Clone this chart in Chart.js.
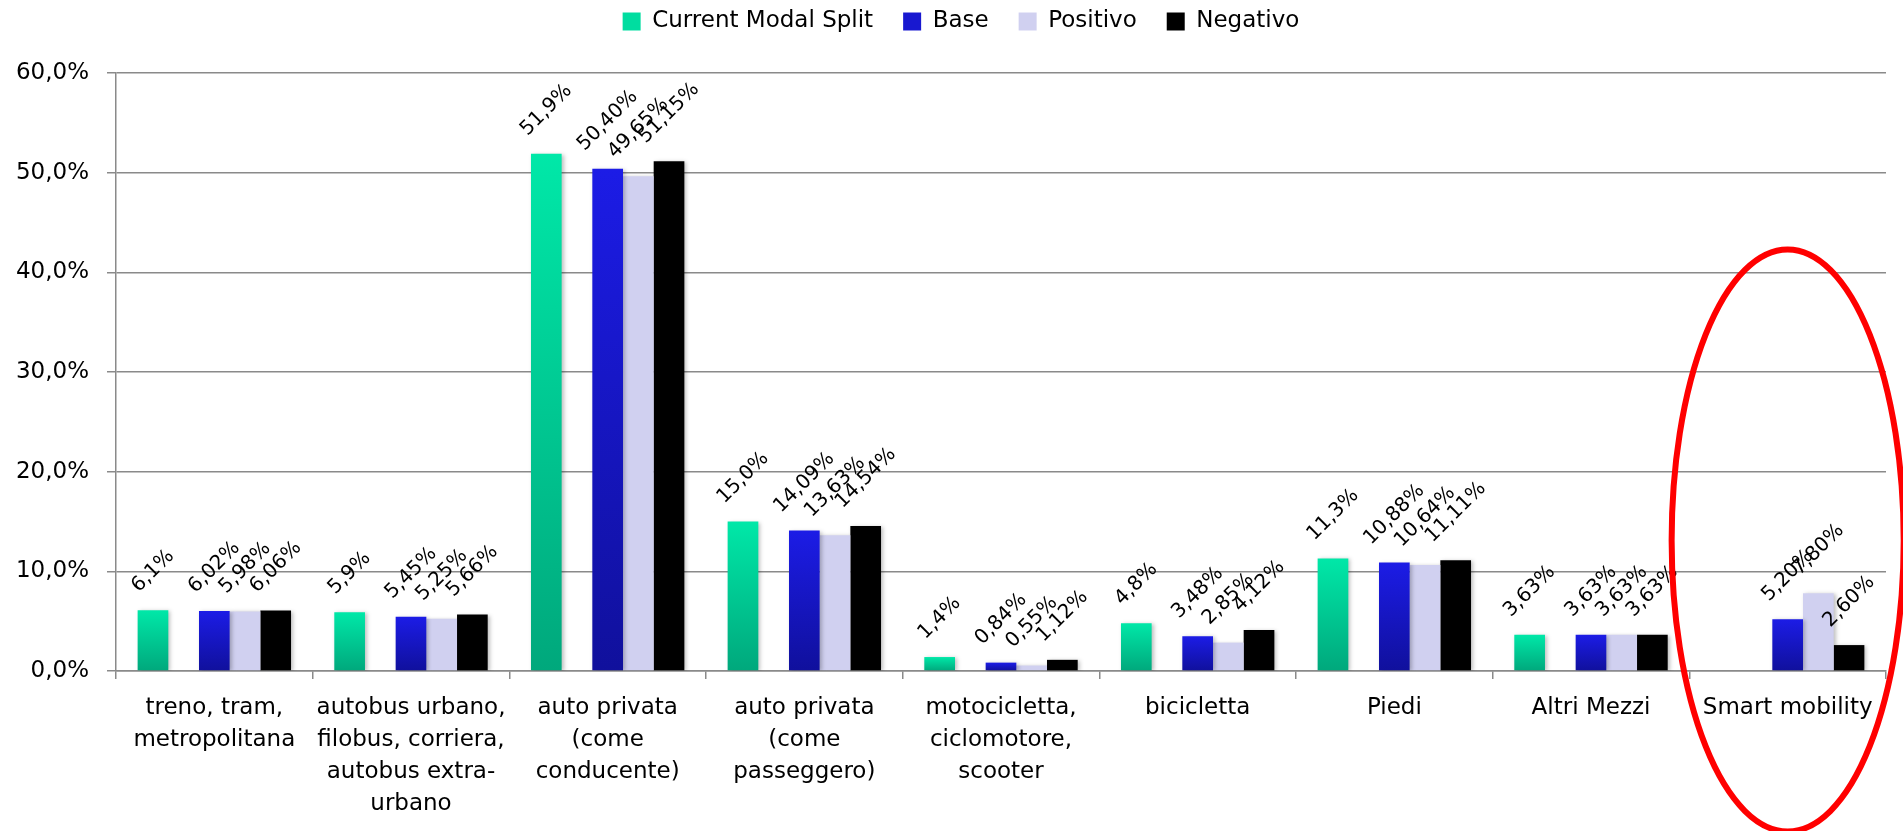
<!DOCTYPE html>
<html>
<head>
<meta charset="utf-8">
<script src="https://cdn.jsdelivr.net/npm/chart.js@4.4.0/dist/chart.umd.min.js"></script>
<style>
  html, body { margin: 0; padding: 0; background: #fff; }
</style>
</head>
<body>
<canvas id="myChart" width="1903" height="831"></canvas>
<script>
// categories (multi-line labels as in the original)
const categories = [
    ["treno, tram,", "metropolitana"],
    ["autobus urbano,", "filobus, corriera,", "autobus extra-", "urbano"],
    ["auto privata", "(come", "conducente)"],
    ["auto privata", "(come", "passeggero)"],
    ["motocicletta,", "ciclomotore,", "scooter"],
    ["bicicletta"],
    ["Piedi"],
    ["Altri Mezzi"],
    ["Smart mobility"]
];

const currentSplit = [6.1, 5.9, 51.9, 15.0, 1.4, 4.8, 11.3, 3.63, null];
const base         = [6.02, 5.45, 50.40, 14.09, 0.84, 3.48, 10.88, 3.63, 5.20];
const positivo     = [5.98, 5.25, 49.65, 13.63, 0.55, 2.85, 10.64, 3.63, 7.80];
const negativo     = [6.06, 5.66, 51.15, 14.54, 1.12, 4.12, 11.11, 3.63, 2.60];

const yTicks = [0, 10, 20, 30, 40, 50, 60];

// red ellipse around the last category
const highlightIndex = 8;
const highlightCenter = 13.1;
const highlightHalfHeight = 29.2;

const FONT = '"DejaVu Sans", Verdana, sans-serif';
Chart.defaults.font.family = FONT;
Chart.defaults.color = '#000';

function fmt(v, short) {
    let d = 2;
    if (short && Math.abs(v * 10 - Math.round(v * 10)) < 1e-6) d = 1;
    return v.toFixed(d).replace('.', ',') + '%';
}

// vertical gradient per bar (Excel style)
function vGrad(top, bottom) {
    return function (c) {
        const chart = c.chart;
        if (!chart.chartArea || c.type !== 'data' || c.raw == null || !chart.scales.y) return top;
        const ys = chart.scales.y;
        const g = chart.ctx.createLinearGradient(0, ys.getPixelForValue(c.raw), 0, ys.getPixelForValue(0));
        g.addColorStop(0, top);
        g.addColorStop(1, bottom);
        return g;
    };
}

const legendColors = ['#00DDA0', null, '#1818D0', '#D0D0F0', '#000000'];

const barShadow = {
    id: 'barShadow',
    beforeDatasetsDraw(chart) {
        const ctx = chart.ctx;
        ctx.save();
        ctx.shadowColor = 'rgba(0,0,0,0.25)';
        ctx.shadowBlur = 4;
        ctx.shadowOffsetX = 2;
        ctx.shadowOffsetY = 1;
    },
    afterDatasetsDraw(chart) {
        chart.ctx.restore();
    }
};

// rotated value labels above every bar
const barLabels = {
    id: 'barLabels',
    afterDatasetsDraw(chart) {
        const ctx = chart.ctx;
        ctx.save();
        ctx.font = '20px ' + FONT;
        ctx.fillStyle = '#000';
        ctx.textAlign = 'center';
        ctx.textBaseline = 'middle';
        chart.data.datasets.forEach((ds, i) => {
            if (!ds.label) return;
            const meta = chart.getDatasetMeta(i);
            meta.data.forEach((bar, j) => {
                const v = ds.data[j];
                if (v === null) return;
                const txt = fmt(v, i === 0);
                const w = ctx.measureText(txt).width;
                const half = (w + 20) * Math.SQRT1_2 / 2;
                ctx.save();
                ctx.translate(bar.x, bar.y - 14 - half);
                ctx.rotate(-Math.PI / 4);
                ctx.fillText(txt, 0, 0);
                ctx.restore();
            });
        });
        ctx.restore();
    }
};

const ellipse = {
    id: 'ellipse',
    afterDraw(chart) {
        const {ctx, scales: {x, y}} = chart;
        const cx = x.getPixelForValue(highlightIndex);
        const cy = y.getPixelForValue(highlightCenter);
        const rx = (x.getPixelForValue(1) - x.getPixelForValue(0)) * 0.59;
        const ry = y.getPixelForValue(0) - y.getPixelForValue(highlightHalfHeight);
        ctx.save();
        ctx.strokeStyle = '#FF0000';
        ctx.lineWidth = 6;
        ctx.beginPath();
        ctx.ellipse(cx, cy, rx, ry, 0, 0, 2 * Math.PI);
        ctx.stroke();
        ctx.restore();
    }
};

// move the legend up and a little right, like the original
const legendShift = {
    id: 'legendShift',
    afterLayout(chart) {
        chart.legend.top -= 30;
        chart.legend.bottom -= 30;
        chart.legend.left += 18;
        chart.legend.right += 18;
    }
};

const ctx = document.getElementById('myChart').getContext('2d');
const chart = new Chart(ctx, {
    type: 'bar',
    data: {
        labels: categories,
        datasets: [
            { label: 'Current Modal Split', data: currentSplit, backgroundColor: vGrad('#00E8A8', '#00A87C') },
            { label: '', data: categories.map(() => null) },   // empty slot between current and scenarios
            { label: 'Base', data: base, backgroundColor: vGrad('#1C1CE6', '#10109C') },
            { label: 'Positivo', data: positivo, backgroundColor: '#D0D0F0' },
            { label: 'Negativo', data: negativo, backgroundColor: '#000000' }
        ]
    },
    options: {
        responsive: false,
        animation: false,
        categoryPercentage: 0.78,
        barPercentage: 1,
        layout: { padding: { left: 0, right: 17, top: 10, bottom: 0 } },
        plugins: {
            tooltip: { enabled: false },
            legend: {
                position: 'top',
                labels: {
                    font: { size: 23 },
                    color: '#000',
                    boxWidth: 18,
                    boxHeight: 18,
                    padding: 30,
                    generateLabels(chart) {
                        return chart.data.datasets.map((ds, i) => ({
                            text: ds.label,
                            fillStyle: legendColors[i],
                            strokeStyle: legendColors[i],
                            lineWidth: 0,
                            datasetIndex: i
                        })).filter(l => l.text);
                    }
                }
            }
        },
        scales: {
            x: {
                grid: { offset: true, drawOnChartArea: false, color: '#8a8a8a', lineWidth: 1.5, tickLength: 8 },
                border: { color: '#8a8a8a', width: 1.5 },
                ticks: {
                    font: { size: 23, lineHeight: 1.39 },
                    color: '#000',
                    maxRotation: 0,
                    autoSkip: false,
                    padding: 13
                },
                afterFit(s) { s.height = 160; }
            },
            y: {
                min: yTicks[0],
                max: yTicks[yTicks.length - 1],
                afterBuildTicks(s) { s.ticks = yTicks.map(v => ({ value: v })); },
                ticks: {
                    font: { size: 23 },
                    color: '#000',
                    padding: 18,
                    callback: v => v.toFixed(1).replace('.', ',') + '%'
                },
                grid: { color: '#8a8a8a', lineWidth: 1.5, tickLength: 9 },
                border: { color: '#8a8a8a', width: 1.5 },
                afterFit(s) { s.width = 116; }
            }
        }
    },
    plugins: [legendShift, barShadow, barLabels, ellipse]
});
</script>
</body>
</html>
